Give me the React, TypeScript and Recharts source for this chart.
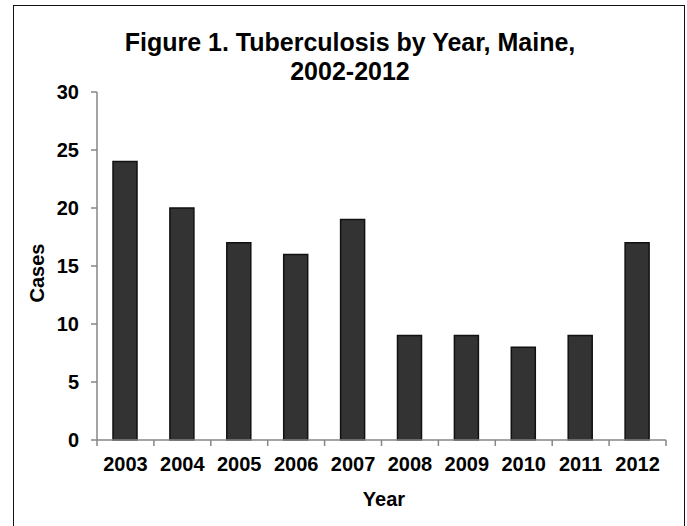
import React from 'react';
import { BarChart, Bar, XAxis, YAxis } from 'recharts';

const years = ['2003', '2004', '2005', '2006', '2007', '2008', '2009', '2010', '2011', '2012'];
const cases = [24, 20, 17, 16, 19, 9, 9, 8, 9, 17];
const yTicks = [0, 5, 10, 15, 20, 25, 30];

const data = years.map((year, i) => ({ year, cases: cases[i] }));

const W = 687;
const H = 526;
const X_AXIS_H = 40;
const M = { top: 92, right: 21, left: 0, bottom: 86 - X_AXIS_H };
const Y_AXIS_W = 97;
const PLOT_W = W - Y_AXIS_W - M.right;
const BAND = PLOT_W / years.length;
const FONT = "Arial, 'Liberation Sans', sans-serif";
const AXIS_COLOR = '#868686';

const YearTick = (props: any) => {
  const { x, y, payload, index } = props;
  const half = BAND / 2;
  return (
    <g>
      <line x1={x - half} x2={x - half} y1={y} y2={y + 6} stroke={AXIS_COLOR} strokeWidth={1.5} />
      {index === years.length - 1 && (
        <line x1={x + half} x2={x + half} y1={y} y2={y + 6} stroke={AXIS_COLOR} strokeWidth={1.5} />
      )}
      <text x={x} y={y + 30.5} textAnchor="middle" fontFamily={FONT} fontSize={20} fontWeight="bold" fill="#000">
        {payload.value}
      </text>
    </g>
  );
};

export default function App() {
  return (
    <div style={{ position: 'absolute', left: 0, top: 0, width: W, height: H, background: '#fff', overflow: 'hidden' }}>
      <div
        style={{
          position: 'absolute',
          left: 13,
          top: 5,
          width: 672,
          height: H + 20,
          border: '1.5px solid #111',
          boxSizing: 'border-box',
        }}
      />
      <div style={{ position: 'absolute', left: 0, top: 0 }}>
        <BarChart width={W} height={H} data={data} margin={M}>
          <text x={350} y={51} textAnchor="middle" fontFamily={FONT} fontSize={25} fontWeight="bold" fill="#000">
            Figure 1. Tuberculosis by Year, Maine,
          </text>
          <text x={350} y={80} textAnchor="middle" fontFamily={FONT} fontSize={25} fontWeight="bold" fill="#000">
            2002-2012
          </text>
          <text
            x={44}
            y={273}
            transform="rotate(-90 44 273)"
            textAnchor="middle"
            fontFamily={FONT}
            fontSize={20}
            fontWeight="bold"
            fill="#000"
          >
            Cases
          </text>
          <text x={384} y={506} textAnchor="middle" fontFamily={FONT} fontSize={20} fontWeight="bold" fill="#000">
            Year
          </text>
          <XAxis
            dataKey="year"
            height={X_AXIS_H}
            axisLine={{ stroke: AXIS_COLOR, strokeWidth: 1.5 }}
            tickLine={false}
            tickSize={0}
            tickMargin={0}
            interval={0}
            tick={<YearTick />}
          />
          <YAxis
            width={Y_AXIS_W}
            domain={[0, 30]}
            ticks={yTicks}
            interval={0}
            axisLine={{ stroke: AXIS_COLOR, strokeWidth: 1.5 }}
            tickLine={{ stroke: AXIS_COLOR, strokeWidth: 1.5 }}
            tickSize={6}
            tickMargin={12}
            tick={{ fontFamily: FONT, fontSize: 20, fontWeight: 'bold', fill: '#000' }}
          />
          <Bar dataKey="cases" barSize={24} fill="#333333" stroke="#111" strokeWidth={1.5} isAnimationActive={false} />
        </BarChart>
      </div>
    </div>
  );
}
